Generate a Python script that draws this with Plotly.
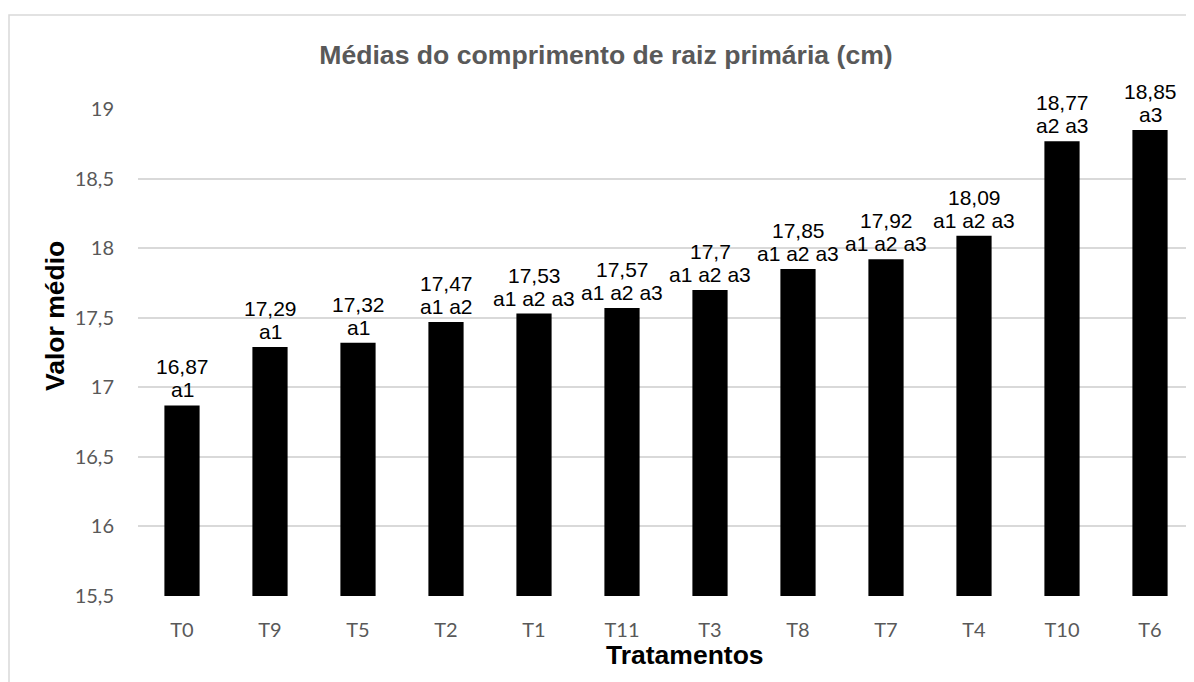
import plotly.graph_objects as go

categories = ["T0", "T9", "T5", "T2", "T1", "T11", "T3", "T8", "T7", "T4", "T10", "T6"]
values = [16.87, 17.29, 17.32, 17.47, 17.53, 17.57, 17.7, 17.85, 17.92, 18.09, 18.77, 18.85]
value_labels = ["16,87", "17,29", "17,32", "17,47", "17,53", "17,57", "17,7", "17,85", "17,92", "18,09", "18,77", "18,85"]
groups = ["a1", "a1", "a1", "a1 a2", "a1 a2 a3", "a1 a2 a3", "a1 a2 a3", "a1 a2 a3", "a1 a2 a3", "a1 a2 a3", "a2 a3", "a3"]
y_ticks = [15.5, 16, 16.5, 17, 17.5, 18, 18.5, 19]
y_tick_labels = ["15,5", "16", "16,5", "17", "17,5", "18", "18,5", "19"]

W, H = 1186, 674
L, R, T, B = 130, 0, 101, 86
pw, ph = W - L - R, H - T - B

label_font = dict(family="Liberation Sans, Arial", size=21, color="#000000")
axis_title_font = dict(family="Liberation Sans, Arial", size=26.5, color="#000000")

fig = go.Figure()
fig.add_trace(go.Bar(
    x=categories, y=values,
    marker=dict(color="#000000", line=dict(width=0)),
    width=0.4, hoverinfo="x+y",
))

annotations = []
for c, v, vl, g in zip(categories, values, value_labels, groups):
    annotations.append(dict(x=c, y=v, xref="x", yref="y", text=g, showarrow=False,
                            yanchor="bottom", xanchor="center", yshift=2, font=label_font))
    annotations.append(dict(x=c, y=v, xref="x", yref="y", text=vl, showarrow=False,
                            yanchor="bottom", xanchor="center", yshift=25, font=label_font))

annotations.append(dict(x=(685 - 8 - L) / pw, y=(T + ph - 647) / ph, xref="paper", yref="paper",
                        text="<b>Tratamentos</b>", showarrow=False, xanchor="center", yanchor="middle",
                        font=axis_title_font))
annotations.append(dict(x=(55 - 8 - L) / pw, y=(T + ph - 308) / ph, xref="paper", yref="paper",
                        text="<b>Valor médio</b>", showarrow=False, xanchor="center", yanchor="middle",
                        textangle=-90, font=axis_title_font))

fig.update_layout(
    width=W, height=H,
    autosize=False,
    margin=dict(l=L, r=R, t=T, b=B, pad=0),
    paper_bgcolor="white", plot_bgcolor="white",
    showlegend=False,
    title=dict(text="<b>Médias do comprimento de raiz primária (cm)</b>",
               x=598 / W, xanchor="center", y=1 - 47 / H, yanchor="middle",
               font=dict(family="Liberation Sans, Arial", size=26.6, color="#595959")),
    xaxis=dict(showgrid=False, showline=False, ticks="", ticklabelstandoff=20,
               tickfont=dict(family="Lato", size=20, color="#595959")),
    yaxis=dict(range=[15.5, 19.001], tickvals=y_ticks, ticktext=y_tick_labels,
               showgrid=True, gridcolor="#d9d9d9", gridwidth=1.5, zeroline=False, showline=False,
               ticks="", ticklabelstandoff=23,
               tickfont=dict(family="Lato", size=20, color="#595959")),
    annotations=annotations,
    shapes=[dict(type="rect", xref="paper", yref="paper",
                 x0=(1 - L) / pw, x1=1.05, y0=-0.3, y1=(T + ph - 7) / ph,
                 line=dict(color="#d9d9d9", width=1.5), fillcolor="rgba(0,0,0,0)", layer="below")],
)

fig.write_html("out.html")
